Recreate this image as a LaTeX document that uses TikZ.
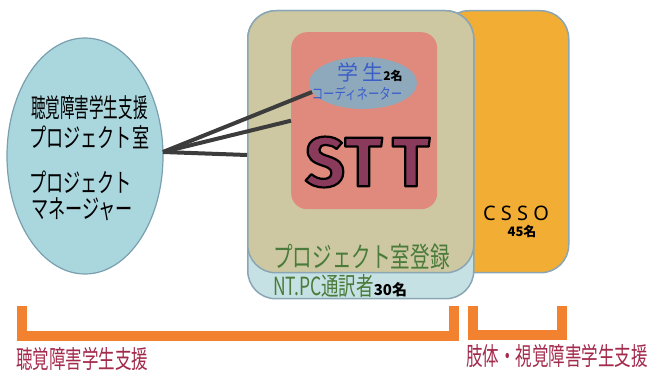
\documentclass[tikz,border=0pt]{standalone}
\usepackage{fontspec}
\usetikzlibrary{calc,shapes.geometric}
\setmainfont{Noto Sans}
\newfontfamily\jp{Noto Sans CJK JP}
\newfontfamily\jpn[FakeStretch=0.56]{Noto Sans CJK JP}
\newfontfamily\jpk[FakeStretch=0.66]{Noto Sans CJK JP}
\newfontfamily\jpm[FakeStretch=0.7]{Noto Sans CJK JP}
\newfontfamily\jps[FakeStretch=0.76]{Noto Sans CJK JP}
\newfontfamily\sttfont{Fira Sans}
\definecolor{pmfill}{HTML}{AAD6DE}
\definecolor{pmedge}{HTML}{7A9FAE}
\definecolor{conncol}{HTML}{3C3C3C}
\definecolor{khaki}{HTML}{CDC8A2}
\definecolor{ntblue}{HTML}{C6E1E4}
\definecolor{orng}{HTML}{F1AD34}
\definecolor{salmon}{HTML}{DF8A7C}
\definecolor{stufill}{HTML}{8FA9BC}
\definecolor{stutext}{HTML}{3B5FC8}
\definecolor{sttcol}{HTML}{8A3A5B}
\definecolor{grn}{HTML}{4B7B3A}
\definecolor{lblred}{HTML}{A32A4B}
\definecolor{brk}{HTML}{F28130}
\definecolor{boxedge}{HTML}{8AA6B5}
\newcommand\outlined[1]{\special{pdf:literal direct 0 0 0 RG 2.2 w 1 j 2 Tr}#1\special{pdf:literal direct 0 Tr}}
\begin{document}
\begin{tikzpicture}[x=1pt,y=-1pt,
  bigbox/.style={rectangle,rounded corners=28pt,draw=boxedge,line width=1.5pt,inner sep=0pt,anchor=north west},
  conn/.style={draw=conncol,line width=4pt},
  bracket/.style={draw=brk,line width=10pt,miter limit=10},
  pmtext/.style={anchor=west,inner sep=0pt,font=\fontsize{26}{26}\selectfont},
  lbl/.style={inner sep=0pt,text=lblred,font=\jpk\fontsize{25}{25}\selectfont},
  sttletter/.style={inner sep=0pt,text=sttcol,font=\sttfont\bfseries\fontsize{70}{70}\selectfont}]
\useasboundingbox (0,0) rectangle (649,371);
% containers
\node[bigbox,fill=orng,minimum width=128pt,minimum height=262pt] (csso) at (440,10) {};
\node[bigbox,fill=ntblue,minimum width=226pt,minimum height=288pt] (nt) at (247,10) {};
\node[bigbox,fill=khaki,minimum width=226pt,minimum height=262pt] (proj) at (247,10) {};
\node[rectangle,rounded corners=16pt,fill=salmon,inner sep=0pt,anchor=north west,minimum width=146pt,minimum height=177pt] (sttbox) at (291,32) {};
\node[ellipse,fill=stufill,inner sep=0pt,minimum width=108pt,minimum height=52pt] (stu) at (363,83) {};
% left ellipse
\node[ellipse,fill=pmfill,draw=pmedge,line width=1.2pt,inner sep=0pt,minimum width=156pt,minimum height=236pt] (pm) at (85,156) {};
\node[pmtext] (pm1) at (31,108) {\jpn 聴覚障害学生支援};
\node[pmtext] (pm2) at (29,137) {\jpk プロジェクト室};
\node[pmtext] (pm3) at (29,182) {\jpk プロジェクト};
\node[pmtext] (pm4) at (31,209) {\jpk マネージャー};
% connectors
\coordinate (hub) at (163,152);
\coordinate (k1) at (247,155);
\draw[conn] (hub) -- (stu.190);
\draw[conn] (hub) -- (sttbox.west);
\draw[conn] (hub) -- (k1);
% student coordinator text
\node[inner sep=0pt,text=stutext] (stu1) at (370,72) {\jp\fontsize{21}{21}\selectfont 学\hspace{4pt}生{\color{black}\bfseries\fontsize{12}{12}\selectfont 2名}};
\node[inner sep=0pt,text=stutext] (stu2) at (357,94) {\jps\fontsize{15}{15}\selectfont コーディネーター};
% STT outlined letters
\node[sttletter] (s1) at (325,162) {\outlined{S}};
\node[sttletter] (t1) at (363.5,162) {\outlined{T}};
\node[sttletter] (t2) at (411,162) {\outlined{T}};
% CSSO
\node[inner sep=0pt,font=\fontsize{20}{20}\selectfont] (cssot) at (516,213) {C S S O};
\node[inner sep=0pt,font=\jp\bfseries\fontsize{13}{13}\selectfont] (csson) at (522,232) {45名};
% project registration
\node[inner sep=0pt,anchor=west,text=grn,font=\jpm\fontsize{28}{28}\selectfont] (reg) at (273,257) {プロジェクト室登録};
\node[inner sep=0pt,anchor=west,text=grn,font=\jpm\fontsize{25}{25}\selectfont] (ntpc) at (273,286) {NT.PC通訳者{\color{black}\jp\bfseries\fontsize{15}{15}\selectfont 30名}};
% brackets
\coordinate (b1a) at (21.5,306); \coordinate (b1b) at (21.5,336);
\coordinate (b1c) at (453.5,336); \coordinate (b1d) at (453.5,306);
\coordinate (b2a) at (473,306); \coordinate (b2b) at (473,335);
\coordinate (b2c) at (562,335); \coordinate (b2d) at (562,306);
\draw[bracket] (b1a) -- (b1b) -- (b1c) -- (b1d);
\draw[bracket] (b2a) -- (b2b) -- (b2c) -- (b2d);
\node[lbl,anchor=west] (l1) at (16,359) {聴覚障害学生支援};
\node[lbl,anchor=west] (l2) at (466,356) {肢体・視覚障害学生支援};
\end{tikzpicture}
\end{document}
